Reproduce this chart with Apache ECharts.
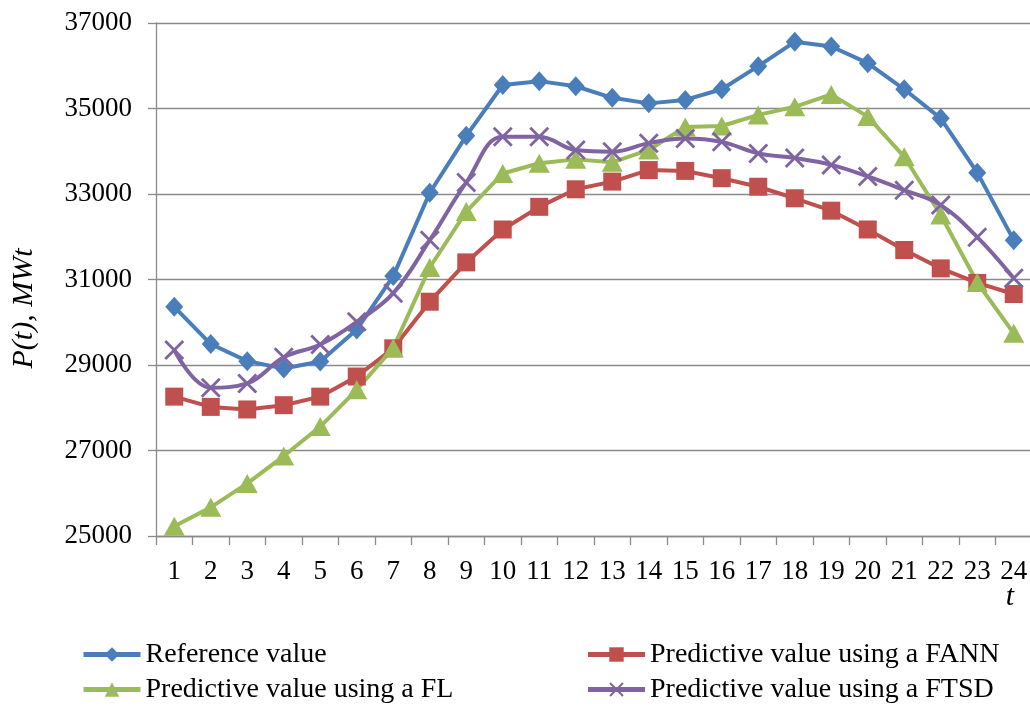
<!DOCTYPE html>
<html>
<head>
<meta charset="utf-8">
<script src="https://cdn.jsdelivr.net/npm/echarts@6/dist/echarts.min.js"></script>
<style>html,body{margin:0;padding:0;background:#fff}#c{width:1030px;height:708px}</style>
</head>
<body>
<div id="c"></div>
<script>
const categories = ['1','2','3','4','5','6','7','8','9','10','11','12','13','14','15','16','17','18','19','20','21','22','23','24'];
const yTicks = { min: 25000, max: 37000, interval: 2000 };
const seriesNames = ['Reference value', 'Predictive value using a FANN', 'Predictive value using a FL', 'Predictive value using a FTSD'];
const xAxisTitle = 't';
const referenceValue = [30360,29490,29090,28920,29080,29830,31080,33030,34360,35550,35640,35520,35250,35120,35200,35450,35990,36560,36450,36060,35450,34770,33500,31920];
const fannValue = [28260,28020,27960,28060,28260,28730,29390,30480,31400,32170,32700,33110,33290,33560,33540,33370,33170,32900,32610,32170,31690,31260,30920,30660];
const flValue = [25230,25670,26230,26870,27560,28420,29400,31280,32590,33480,33720,33810,33740,34030,34570,34590,34850,35040,35330,34810,33870,32510,30930,29740];
const ftsdValue = [29350,28470,28570,29180,29480,30010,30680,31920,33270,34340,34340,34030,33990,34190,34300,34220,33950,33840,33680,33410,33090,32740,31990,31030];

const serif = '"Liberation Serif", "DejaVu Serif", serif';
const axisGray = '#8a8a8a';
const xPath = 'path://M0,1 L1,0 L5,4 L9,0 L10,1 L6,5 L10,9 L9,10 L5,6 L1,10 L0,9 L4,5 Z';

const chart = echarts.init(document.getElementById('c'));
chart.setOption({
  animation: false,
  backgroundColor: '#fff',
  grid: { left: 156, top: 23, width: 876, bottom: 172, containLabel: false, outerBoundsMode: 'none' },
  graphic: [{
    type: 'text', right: 16, top: 582,
    style: { text: xAxisTitle, font: 'italic 30px "Liberation Serif", serif', fill: '#000' }
  }],
  legend: {
    left: 81, top: 637, width: 1010, itemGap: 0, padding: 0,
    itemWidth: 57, itemHeight: 18,
    lineStyle: { width: 5 },
    textStyle: { fontFamily: serif, fontSize: 28, color: '#000', width: 440, lineHeight: 35 },
    data: seriesNames
  },
  xAxis: {
    type: 'category', data: categories, boundaryGap: true,
    axisLine: { lineStyle: { color: axisGray, width: 1.3 } },
    axisTick: { show: true, length: 9, alignWithLabel: false, lineStyle: { color: axisGray, width: 1.3 } },
    axisLabel: { fontFamily: serif, fontSize: 27, color: '#000', margin: 22, interval: 0 }
  },
  yAxis: {
    type: 'value', min: yTicks.min, max: yTicks.max, interval: yTicks.interval,
    name: '{i|P}(t), {i|MWt}', nameLocation: 'middle', nameRotate: 90, nameGap: 117,
    nameTextStyle: { fontFamily: serif, fontSize: 30, color: '#000', fontStyle: 'italic', padding: [0, 58, 0, 0],
      rich: { i: { fontFamily: serif, fontSize: 30, fontStyle: 'italic', color: '#000' } } },
    axisLine: { show: true, lineStyle: { color: axisGray, width: 1.3 } },
    axisTick: { show: true, length: 8, lineStyle: { color: axisGray, width: 1.3 } },
    axisLabel: { fontFamily: serif, fontSize: 27, color: '#000', margin: 24, formatter: function (v) { return String(v); } },
    splitLine: { show: true, lineStyle: { color: axisGray, width: 1.3 } }
  },
  series: [
    { name: seriesNames[0], type: 'line', data: referenceValue, symbol: 'diamond', symbolSize: [18, 20],
      lineStyle: { color: '#4a7ebb', width: 4 }, itemStyle: { color: '#4a7ebb' } },
    { name: seriesNames[1], type: 'line', data: fannValue, symbol: 'rect', symbolSize: 18,
      lineStyle: { color: '#c0504d', width: 4 }, itemStyle: { color: '#c0504d' } },
    { name: seriesNames[2], type: 'line', data: flValue, symbol: 'triangle', symbolSize: [21, 19],
      lineStyle: { color: '#9bbb59', width: 4 }, itemStyle: { color: '#9bbb59' } },
    { name: seriesNames[3], type: 'line', data: ftsdValue, symbol: xPath, symbolSize: 20, smooth: 0.4,
      lineStyle: { color: '#8064a2', width: 4 }, itemStyle: { color: '#8064a2' } }
  ]
});
</script>
</body>
</html>
